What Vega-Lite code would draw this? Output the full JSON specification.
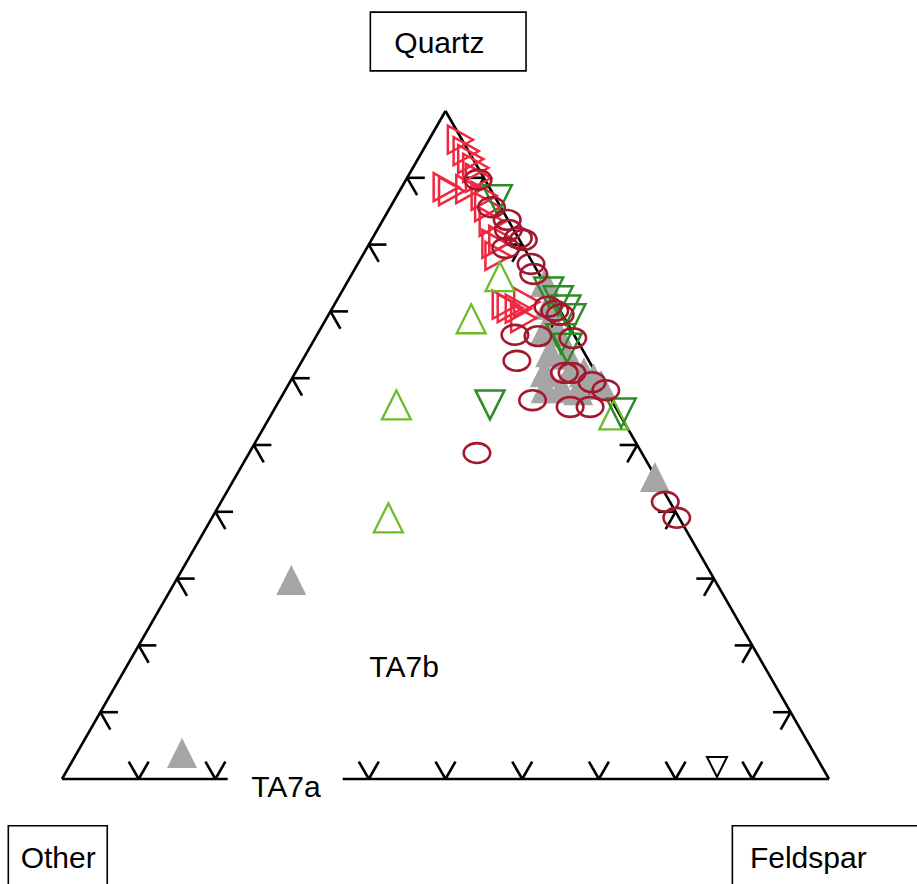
{
  "$schema": "https://vega.github.io/schema/vega-lite/v6.json",
  "width": 767,
  "height": 668,
  "autosize": {"type": "none"},
  "padding": {"left": 62, "top": 111, "right": 88, "bottom": 105},
  "background": "white",
  "config": {"view": {"stroke": null}, "font": "Liberation Sans"},
  "datasets": {
    "lines": [
      {"Quartz": 100, "Feldspar": 0, "Quartz2": 0, "Feldspar2": 0},
      {"Quartz": 100, "Feldspar": 0, "Quartz2": 0, "Feldspar2": 100},
      {"Quartz": 0, "Feldspar": 0, "Quartz2": 0, "Feldspar2": 21.6},
      {"Quartz": 0, "Feldspar": 36.6, "Quartz2": 0, "Feldspar2": 100},
      {"Quartz": 10, "Feldspar": 0, "Quartz2": 10, "Feldspar2": 2.3},
      {"Quartz": 10, "Feldspar": 0, "Quartz2": 7.4, "Feldspar2": 2.6},
      {"Quartz": 20, "Feldspar": 0, "Quartz2": 20, "Feldspar2": 2.3},
      {"Quartz": 20, "Feldspar": 0, "Quartz2": 17.4, "Feldspar2": 2.6},
      {"Quartz": 30, "Feldspar": 0, "Quartz2": 30, "Feldspar2": 2.3},
      {"Quartz": 30, "Feldspar": 0, "Quartz2": 27.4, "Feldspar2": 2.6},
      {"Quartz": 40, "Feldspar": 0, "Quartz2": 40, "Feldspar2": 2.3},
      {"Quartz": 40, "Feldspar": 0, "Quartz2": 37.4, "Feldspar2": 2.6},
      {"Quartz": 50, "Feldspar": 0, "Quartz2": 50, "Feldspar2": 2.3},
      {"Quartz": 50, "Feldspar": 0, "Quartz2": 47.4, "Feldspar2": 2.6},
      {"Quartz": 60, "Feldspar": 0, "Quartz2": 60, "Feldspar2": 2.3},
      {"Quartz": 60, "Feldspar": 0, "Quartz2": 57.4, "Feldspar2": 2.6},
      {"Quartz": 70, "Feldspar": 0, "Quartz2": 70, "Feldspar2": 2.3},
      {"Quartz": 70, "Feldspar": 0, "Quartz2": 67.4, "Feldspar2": 2.6},
      {"Quartz": 80, "Feldspar": 0, "Quartz2": 80, "Feldspar2": 2.3},
      {"Quartz": 80, "Feldspar": 0, "Quartz2": 77.4, "Feldspar2": 2.6},
      {"Quartz": 90, "Feldspar": 0, "Quartz2": 90, "Feldspar2": 2.3},
      {"Quartz": 90, "Feldspar": 0, "Quartz2": 87.4, "Feldspar2": 2.6},
      {"Quartz": 0, "Feldspar": 10, "Quartz2": 2.6, "Feldspar2": 10},
      {"Quartz": 0, "Feldspar": 10, "Quartz2": 2.6, "Feldspar2": 7.4},
      {"Quartz": 0, "Feldspar": 20, "Quartz2": 2.6, "Feldspar2": 20},
      {"Quartz": 0, "Feldspar": 20, "Quartz2": 2.6, "Feldspar2": 17.4},
      {"Quartz": 0, "Feldspar": 40, "Quartz2": 2.6, "Feldspar2": 40},
      {"Quartz": 0, "Feldspar": 40, "Quartz2": 2.6, "Feldspar2": 37.4},
      {"Quartz": 0, "Feldspar": 50, "Quartz2": 2.6, "Feldspar2": 50},
      {"Quartz": 0, "Feldspar": 50, "Quartz2": 2.6, "Feldspar2": 47.4},
      {"Quartz": 0, "Feldspar": 60, "Quartz2": 2.6, "Feldspar2": 60},
      {"Quartz": 0, "Feldspar": 60, "Quartz2": 2.6, "Feldspar2": 57.4},
      {"Quartz": 0, "Feldspar": 70, "Quartz2": 2.6, "Feldspar2": 70},
      {"Quartz": 0, "Feldspar": 70, "Quartz2": 2.6, "Feldspar2": 67.4},
      {"Quartz": 0, "Feldspar": 80, "Quartz2": 2.6, "Feldspar2": 80},
      {"Quartz": 0, "Feldspar": 80, "Quartz2": 2.6, "Feldspar2": 77.4},
      {"Quartz": 0, "Feldspar": 90, "Quartz2": 2.6, "Feldspar2": 90},
      {"Quartz": 0, "Feldspar": 90, "Quartz2": 2.6, "Feldspar2": 87.4},
      {"Quartz": 10, "Feldspar": 90, "Quartz2": 10, "Feldspar2": 87.7},
      {"Quartz": 10, "Feldspar": 90, "Quartz2": 7.4, "Feldspar2": 90},
      {"Quartz": 20, "Feldspar": 80, "Quartz2": 20, "Feldspar2": 77.7},
      {"Quartz": 20, "Feldspar": 80, "Quartz2": 17.4, "Feldspar2": 80},
      {"Quartz": 30, "Feldspar": 70, "Quartz2": 30, "Feldspar2": 67.7},
      {"Quartz": 30, "Feldspar": 70, "Quartz2": 27.4, "Feldspar2": 70},
      {"Quartz": 40, "Feldspar": 60, "Quartz2": 40, "Feldspar2": 57.7},
      {"Quartz": 40, "Feldspar": 60, "Quartz2": 37.4, "Feldspar2": 60},
      {"Quartz": 50, "Feldspar": 50, "Quartz2": 50, "Feldspar2": 47.7},
      {"Quartz": 50, "Feldspar": 50, "Quartz2": 47.4, "Feldspar2": 50},
      {"Quartz": 60, "Feldspar": 40, "Quartz2": 60, "Feldspar2": 37.7},
      {"Quartz": 60, "Feldspar": 40, "Quartz2": 57.4, "Feldspar2": 40},
      {"Quartz": 70, "Feldspar": 30, "Quartz2": 70, "Feldspar2": 27.7},
      {"Quartz": 70, "Feldspar": 30, "Quartz2": 67.4, "Feldspar2": 30},
      {"Quartz": 80, "Feldspar": 20, "Quartz2": 80, "Feldspar2": 17.7},
      {"Quartz": 80, "Feldspar": 20, "Quartz2": 77.4, "Feldspar2": 20},
      {"Quartz": 90, "Feldspar": 10, "Quartz2": 90, "Feldspar2": 7.7},
      {"Quartz": 90, "Feldspar": 10, "Quartz2": 87.4, "Feldspar2": 10}
    ],
    "labels": [
      {"label": "Quartz", "x": 49.2, "y": 108.7},
      {"label": "TA7b", "x": 44.6, "y": 15.3},
      {"label": "TA7a", "x": 29.2, "y": -2.7},
      {"label": "Other", "x": -0.5, "y": -13.3},
      {"label": "Feldspar", "x": 97.3, "y": -13.3}
    ],
    "boxes": [
      {"name": "Quartz", "x1": 40.2, "x2": 60.5, "y1": 106.0, "y2": 114.8},
      {"name": "Other", "x1": -7.0, "x2": 5.9, "y1": -7.0, "y2": -20},
      {"name": "Feldspar", "x1": 87.4, "x2": 116, "y1": -7.0, "y2": -20}
    ],
    "points": [
      {"series": "gray", "Quartz": 74.4, "Feldspar": 25.8},
      {"series": "gray", "Quartz": 71.0, "Feldspar": 28.0},
      {"series": "gray", "Quartz": 67.2, "Feldspar": 29.4},
      {"series": "gray", "Quartz": 66.9, "Feldspar": 31.2},
      {"series": "gray", "Quartz": 63.9, "Feldspar": 31.7},
      {"series": "gray", "Quartz": 60.9, "Feldspar": 32.5},
      {"series": "gray", "Quartz": 58.5, "Feldspar": 33.8},
      {"series": "gray", "Quartz": 63.5, "Feldspar": 34.0},
      {"series": "gray", "Quartz": 61.8, "Feldspar": 35.8},
      {"series": "gray", "Quartz": 60.9, "Feldspar": 37.6},
      {"series": "gray", "Quartz": 60.0, "Feldspar": 39.3},
      {"series": "gray", "Quartz": 59.0, "Feldspar": 40.8},
      {"series": "gray", "Quartz": 58.5, "Feldspar": 35.9},
      {"series": "gray", "Quartz": 58.2, "Feldspar": 38.2},
      {"series": "gray", "Quartz": 45.2, "Feldspar": 54.7},
      {"series": "gray", "Quartz": 29.8, "Feldspar": 15.0},
      {"series": "gray", "Quartz": 3.9, "Feldspar": 13.7},
      {"series": "red", "Quartz": 95.7, "Feldspar": 4.1},
      {"series": "red", "Quartz": 94.0, "Feldspar": 5.7},
      {"series": "red", "Quartz": 92.8, "Feldspar": 6.9},
      {"series": "red", "Quartz": 91.5, "Feldspar": 8.2},
      {"series": "red", "Quartz": 88.6, "Feldspar": 5.8},
      {"series": "red", "Quartz": 88.0, "Feldspar": 6.8},
      {"series": "red", "Quartz": 88.3, "Feldspar": 8.9},
      {"series": "red", "Quartz": 90.0, "Feldspar": 9.3},
      {"series": "red", "Quartz": 85.6, "Feldspar": 12.7},
      {"series": "red", "Quartz": 87.3, "Feldspar": 11.4},
      {"series": "red", "Quartz": 83.4, "Feldspar": 14.4},
      {"series": "red", "Quartz": 80.1, "Feldspar": 16.4},
      {"series": "red", "Quartz": 80.7, "Feldspar": 17.0},
      {"series": "red", "Quartz": 78.3, "Feldspar": 17.7},
      {"series": "red", "Quartz": 71.0, "Feldspar": 22.3},
      {"series": "red", "Quartz": 70.5, "Feldspar": 23.2},
      {"series": "red", "Quartz": 70.4, "Feldspar": 24.3},
      {"series": "red", "Quartz": 69.0, "Feldspar": 25.7},
      {"series": "red", "Quartz": 71.4, "Feldspar": 24.9},
      {"series": "lightgreen", "Quartz": 75.2, "Feldspar": 19.5},
      {"series": "lightgreen", "Quartz": 68.9, "Feldspar": 18.9},
      {"series": "lightgreen", "Quartz": 56.0, "Feldspar": 15.6},
      {"series": "lightgreen", "Quartz": 39.1, "Feldspar": 23.0},
      {"series": "lightgreen", "Quartz": 54.5, "Feldspar": 44.7},
      {"series": "darkgreen", "Quartz": 86.7, "Feldspar": 13.4},
      {"series": "darkgreen", "Quartz": 72.9, "Feldspar": 27.0},
      {"series": "darkgreen", "Quartz": 71.6, "Feldspar": 28.9},
      {"series": "darkgreen", "Quartz": 70.2, "Feldspar": 30.6},
      {"series": "darkgreen", "Quartz": 68.9, "Feldspar": 31.9},
      {"series": "darkgreen", "Quartz": 65.9, "Feldspar": 32.1},
      {"series": "darkgreen", "Quartz": 64.5, "Feldspar": 33.6},
      {"series": "darkgreen", "Quartz": 56.0, "Feldspar": 27.8},
      {"series": "darkgreen", "Quartz": 54.8, "Feldspar": 45.5},
      {"series": "darkred", "Quartz": 89.7, "Feldspar": 9.4},
      {"series": "darkred", "Quartz": 85.6, "Feldspar": 13.2},
      {"series": "darkred", "Quartz": 83.7, "Feldspar": 16.2},
      {"series": "darkred", "Quartz": 82.2, "Feldspar": 17.1},
      {"series": "darkred", "Quartz": 81.0, "Feldspar": 19.0},
      {"series": "darkred", "Quartz": 79.5, "Feldspar": 18.1},
      {"series": "darkred", "Quartz": 80.7, "Feldspar": 19.8},
      {"series": "darkred", "Quartz": 77.1, "Feldspar": 22.6},
      {"series": "darkred", "Quartz": 75.6, "Feldspar": 23.7},
      {"series": "darkred", "Quartz": 70.7, "Feldspar": 28.0},
      {"series": "darkred", "Quartz": 70.1, "Feldspar": 29.2},
      {"series": "darkred", "Quartz": 69.5, "Feldspar": 30.2},
      {"series": "darkred", "Quartz": 66.0, "Feldspar": 33.6},
      {"series": "darkred", "Quartz": 66.5, "Feldspar": 25.8},
      {"series": "darkred", "Quartz": 66.3, "Feldspar": 28.9},
      {"series": "darkred", "Quartz": 62.6, "Feldspar": 28.0},
      {"series": "darkred", "Quartz": 60.8, "Feldspar": 35.1},
      {"series": "darkred", "Quartz": 60.8, "Feldspar": 36.1},
      {"series": "darkred", "Quartz": 59.4, "Feldspar": 39.4},
      {"series": "darkred", "Quartz": 58.2, "Feldspar": 41.8},
      {"series": "darkred", "Quartz": 56.7, "Feldspar": 33.0},
      {"series": "darkred", "Quartz": 55.7, "Feldspar": 38.4},
      {"series": "darkred", "Quartz": 55.7, "Feldspar": 41.0},
      {"series": "darkred", "Quartz": 48.8, "Feldspar": 29.7},
      {"series": "darkred", "Quartz": 41.5, "Feldspar": 57.9},
      {"series": "darkred", "Quartz": 39.1, "Feldspar": 60.6},
      {"series": "black", "Quartz": 1.8, "Feldspar": 84.5}
    ]
  },
  "layer": [
    {
      "data": {"name": "lines"},
      "transform": [
        {"calculate": "datum.Feldspar + datum.Quartz / 2", "as": "px"},
        {"calculate": "datum.Feldspar2 + datum.Quartz2 / 2", "as": "px2"}
      ],
      "mark": {"type": "rule", "color": "black", "strokeWidth": 2.6, "clip": false},
      "encoding": {
        "x": {"field": "px", "type": "quantitative", "scale": {"domain": [0, 100], "nice": false, "zero": false}, "axis": null},
        "x2": {"field": "px2"},
        "y": {"field": "Quartz", "type": "quantitative", "scale": {"domain": [0, 100], "nice": false, "zero": false}, "axis": null},
        "y2": {"field": "Quartz2"}
      }
    },
    {
      "data": {"name": "boxes"},
      "mark": {"type": "rect", "fill": "transparent", "stroke": "black", "strokeWidth": 1.6, "clip": false},
      "encoding": {
        "x": {"field": "x1", "type": "quantitative", "axis": null},
        "x2": {"field": "x2"},
        "y": {"field": "y1", "type": "quantitative", "axis": null},
        "y2": {"field": "y2"}
      }
    },
    {
      "data": {"name": "labels"},
      "mark": {"type": "text", "fontSize": 30, "font": "Liberation Sans", "align": "center", "baseline": "alphabetic", "color": "black", "clip": false},
      "encoding": {
        "x": {"field": "x", "type": "quantitative", "axis": null},
        "y": {"field": "y", "type": "quantitative", "axis": null},
        "text": {"field": "label"}
      }
    },
    {
      "data": {"name": "points"},
      "transform": [
        {"filter": "datum.series === 'gray'"},
        {"calculate": "datum.Feldspar + datum.Quartz / 2", "as": "px"}
      ],
      "mark": {"type": "point", "shape": "M0,-1L1,1L-1,1Z", "filled": true, "fill": "#a5a5a5", "strokeWidth": 0, "size": 900, "opacity": 1, "clip": false},
      "encoding": {
        "x": {"field": "px", "type": "quantitative", "axis": null},
        "y": {"field": "Quartz", "type": "quantitative", "axis": null}
      }
    },
    {
      "data": {"name": "points"},
      "transform": [
        {"filter": "datum.series === 'red'"},
        {"calculate": "datum.Feldspar + datum.Quartz / 2", "as": "px"}
      ],
      "mark": {"type": "point", "shape": "M0.9,0L-0.9,-1L-0.9,1Z", "filled": false, "stroke": "#ef2840", "strokeWidth": 2.5, "size": 784, "opacity": 1, "clip": false},
      "encoding": {
        "x": {"field": "px", "type": "quantitative", "axis": null},
        "y": {"field": "Quartz", "type": "quantitative", "axis": null}
      }
    },
    {
      "data": {"name": "points"},
      "transform": [
        {"filter": "datum.series === 'lightgreen'"},
        {"calculate": "datum.Feldspar + datum.Quartz / 2", "as": "px"}
      ],
      "mark": {"type": "point", "shape": "M0,-1L1,1L-1,1Z", "filled": false, "stroke": "#6cbc2c", "strokeWidth": 2.3, "size": 841, "opacity": 1, "clip": false},
      "encoding": {
        "x": {"field": "px", "type": "quantitative", "axis": null},
        "y": {"field": "Quartz", "type": "quantitative", "axis": null}
      }
    },
    {
      "data": {"name": "points"},
      "transform": [
        {"filter": "datum.series === 'darkgreen'"},
        {"calculate": "datum.Feldspar + datum.Quartz / 2", "as": "px"}
      ],
      "mark": {"type": "point", "shape": "M0,1L1,-1L-1,-1Z", "filled": false, "stroke": "#2d8c25", "strokeWidth": 2.5, "size": 841, "opacity": 1, "clip": false},
      "encoding": {
        "x": {"field": "px", "type": "quantitative", "axis": null},
        "y": {"field": "Quartz", "type": "quantitative", "axis": null}
      }
    },
    {
      "data": {"name": "points"},
      "transform": [
        {"filter": "datum.series === 'darkred'"},
        {"calculate": "datum.Feldspar + datum.Quartz / 2", "as": "px"}
      ],
      "mark": {"type": "point", "shape": "M-1,0A1,0.75 0 1,0 1,0A1,0.75 0 1,0 -1,0Z", "filled": false, "stroke": "#a3182e", "strokeWidth": 2.6, "size": 700, "opacity": 1, "clip": false},
      "encoding": {
        "x": {"field": "px", "type": "quantitative", "axis": null},
        "y": {"field": "Quartz", "type": "quantitative", "axis": null}
      }
    },
    {
      "data": {"name": "points"},
      "transform": [
        {"filter": "datum.series === 'black'"},
        {"calculate": "datum.Feldspar + datum.Quartz / 2", "as": "px"}
      ],
      "mark": {"type": "point", "shape": "M0,1L1,-1L-1,-1Z", "filled": false, "stroke": "black", "strokeWidth": 2, "size": 400, "opacity": 1, "clip": false},
      "encoding": {
        "x": {"field": "px", "type": "quantitative", "axis": null},
        "y": {"field": "Quartz", "type": "quantitative", "axis": null}
      }
    }
  ]
}
